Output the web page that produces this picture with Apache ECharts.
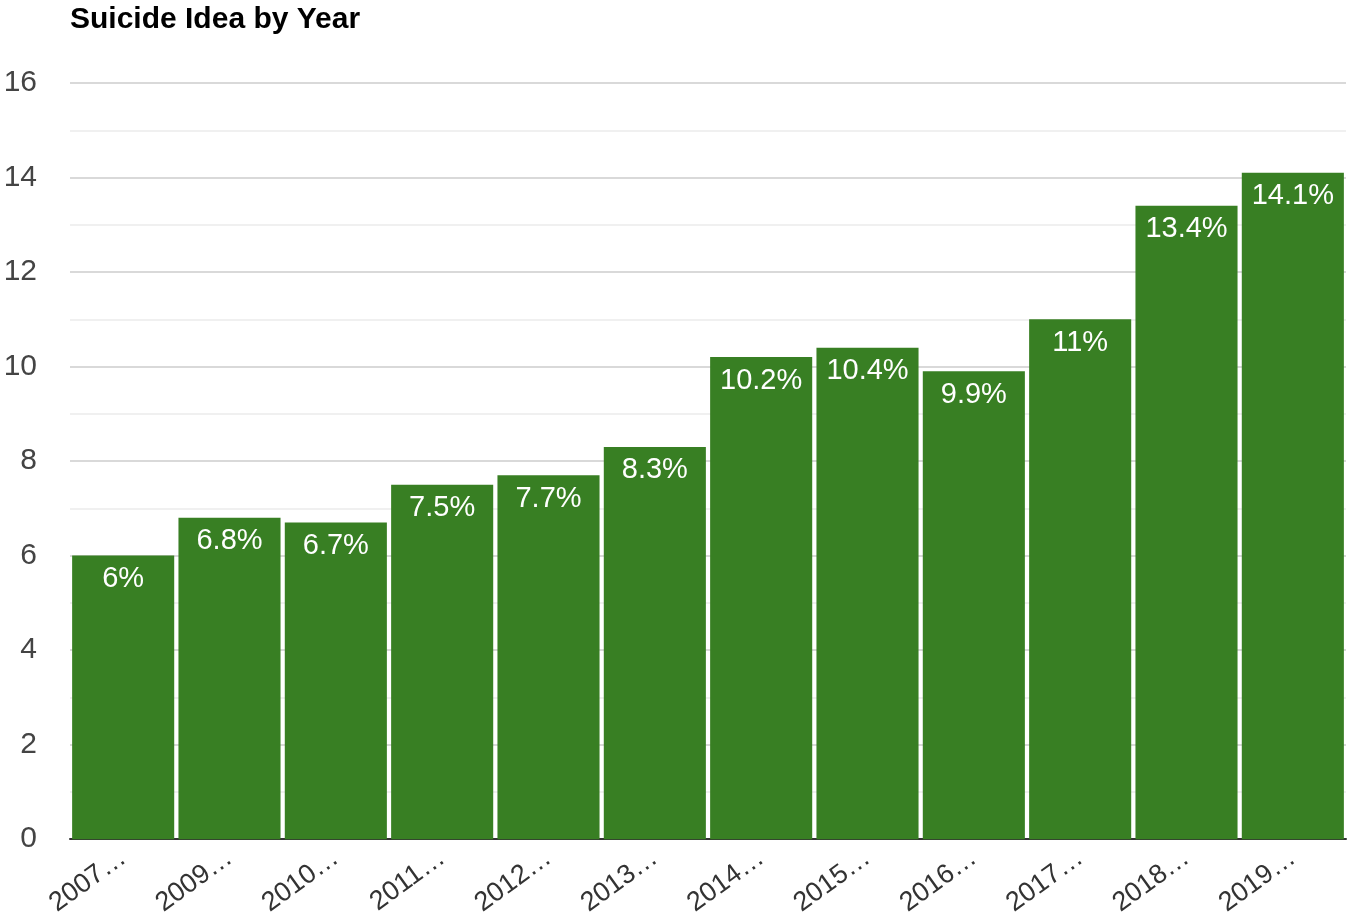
<!DOCTYPE html>
<html><head><meta charset="utf-8">
<script src="https://cdn.jsdelivr.net/npm/echarts@6/dist/echarts.min.js"></script>
<style>html,body{margin:0;padding:0;background:#fff}#c{width:1349px;height:919px}</style>
</head><body><div id="c"></div>
<script>
const categories = ["2007…","2009…","2010…","2011…","2012…","2013…","2014…","2015…","2016…","2017…","2018…","2019…"];
const values = [6, 6.8, 6.7, 7.5, 7.7, 8.3, 10.2, 10.4, 9.9, 11, 13.4, 14.1];
const chart = echarts.init(document.getElementById('c'));
chart.setOption({
  animation: false,
  title: {text: 'Suicide Idea by Year', left: 65, top: 0,
    textStyle: {fontFamily: 'Liberation Sans, Arial', fontWeight: 'bold', fontSize: 30, color: '#000'}},
  grid: {left: 70, right: 3, top: 83, bottom: 79},
  xAxis: {type: 'category', data: categories,
    axisLine: {lineStyle: {color: '#333', width: 2}}, axisTick: {show: false},
    axisLabel: {rotate: 36, fontFamily: 'Liberation Sans, Arial', fontSize: 27, color: '#333', margin: 16, interval: 0}},
  yAxis: {type: 'value', min: 0, max: 16, interval: 2,
    axisLabel: {fontFamily: 'Liberation Sans, Arial', fontSize: 30, color: '#444', margin: 33},
    splitLine: {lineStyle: {color: '#ccc', width: 1.5}},
    minorTick: {show: false, splitNumber: 2},
    minorSplitLine: {show: true, lineStyle: {color: '#ebebeb', width: 1.5}}},
  series: [{type: 'bar', data: values, barCategoryGap: '4%',
    itemStyle: {color: '#387f23'},
    label: {show: true, position: 'insideTop', distance: 9, color: '#fff',
      fontFamily: 'Liberation Sans, Arial', fontSize: 29,
      formatter: p => p.value + '%'}}]
});
</script></body></html>
